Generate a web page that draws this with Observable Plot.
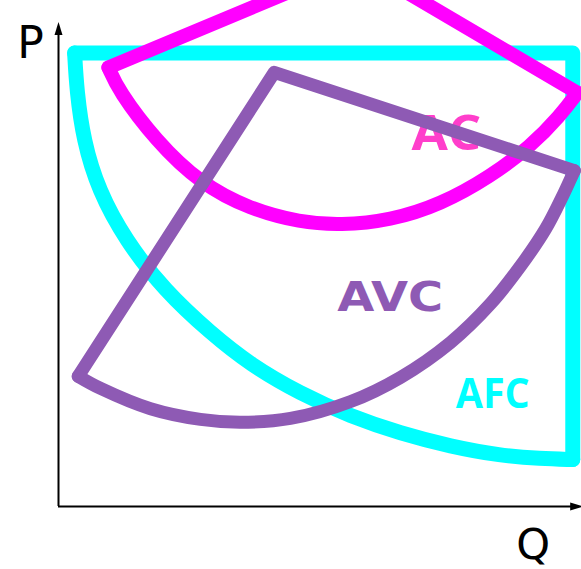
<!DOCTYPE html>
<html><head><meta charset="utf-8">
<script src="https://cdn.jsdelivr.net/npm/d3@7"></script>
<script src="https://cdn.jsdelivr.net/npm/@observablehq/plot@0.6"></script>
<style>body{margin:0;background:#fff}</style>
</head><body><div id="chart"></div>
<script>
// AFC shape: straight edges and curved side (Q, P)
const afcEdgeQ = [0.31, 9.89, 9.89];
const afcEdgeP = [9.37, 9.37, 0.97];
const afcCurveQ = [9.89, 9.27, 8.50, 7.54, 6.58, 5.62, 4.65, 3.69, 2.94, 2.04, 1.29, 0.77, 0.48, 0.35, 0.31];
const afcCurveP = [0.97, 0.99, 1.05, 1.24, 1.51, 1.86, 2.33, 2.93, 3.57, 4.46, 5.50, 6.53, 7.56, 8.60, 9.37];
// AC shape
const acEdgeQ = [0.96, 5.75, 9.98];
const acEdgeP = [9.07, 11.22, 8.55];
const acCurveQ = [9.98, 9.65, 9.08, 8.31, 7.35, 6.38, 5.42, 4.65, 3.69, 2.73, 1.87, 1.15, 0.96];
const acCurveP = [8.55, 8.08, 7.44, 6.82, 6.24, 5.91, 5.81, 5.87, 6.14, 6.67, 7.56, 8.60, 9.07];
// AVC shape
const avcEdgeQ = [0.38, 4.15, 9.92];
const avcEdgeP = [2.69, 8.97, 6.94];
const avcCurveQ = [9.92, 9.67, 9.37, 8.88, 8.31, 7.54, 6.58, 5.62, 4.46, 3.50, 2.73, 1.77, 0.81, 0.38];
const avcCurveP = [6.94, 6.36, 5.74, 4.96, 4.19, 3.39, 2.67, 2.17, 1.82, 1.74, 1.80, 2.02, 2.44, 2.69];
// curve labels
const curveNames = ["AC", "AVC", "AFC"];
const curveLabelQ = [7.46, 6.38, 8.35];
const curveLabelP = [7.68, 4.31, 2.31];
// axis labels and extents
const axisNames = ["P", "Q"];
const axisLabelQ = [-0.54, 9.13];
const axisLabelP = [9.55, -0.81];
const qMax = 10.1;
const pMax = 10;

const rows = (qs, ps) => qs.map((q, i) => ({q, p: ps[i]}));
const labels = curveNames.map((name, i) => ({name, q: curveLabelQ[i], p: curveLabelP[i]}));
const axisLabels = axisNames.map((name, i) => ({name, q: axisLabelQ[i], p: axisLabelP[i]}));

const CYAN = "#00ffff", MAGENTA = "#ff00ff", PURPLE = "#8e5ab4";
const ls = (color, w, curve) => ({x: "q", y: "p", stroke: color, strokeWidth: w,
  strokeLinejoin: "round", strokeLinecap: "round", curve});

const arrowHeads = (index, {x, y}) => {
  const g = d3.create("svg:g").attr("fill", "black");
  const x0 = x(0) + 0.5, y0 = y(0) + 0.5, xt = x(qMax), yt = y(pMax);
  g.append("path").attr("d", `M${x0},${yt}L${x0 - 4},${yt + 13}L${x0 + 4},${yt + 13}Z`);
  g.append("path").attr("d", `M${xt},${y0}L${xt - 13},${y0 - 4}L${xt - 13},${y0 + 4}Z`);
  return g.node();
};

const chart = Plot.plot({
  width: 581,
  height: 569,
  marginLeft: 58,
  marginRight: 3,
  marginTop: 22,
  marginBottom: 63,
  style: {background: "white", overflow: "hidden"},
  x: {domain: [0, 10], axis: null},
  y: {domain: [0, 10], axis: null},
  marks: [
    Plot.ruleX([0], {y1: 0, y2: pMax - 0.1, stroke: "black", strokeWidth: 2}),
    Plot.ruleY([0], {x1: 0, x2: qMax - 0.1, stroke: "black", strokeWidth: 2}),
    arrowHeads,
    Plot.line(rows(afcEdgeQ, afcEdgeP), ls(CYAN, 15, "linear")),
    Plot.line(rows(afcCurveQ, afcCurveP), ls(CYAN, 15, "basis")),
    Plot.line(rows(acEdgeQ, acEdgeP), ls(MAGENTA, 14, "linear")),
    Plot.line(rows(acCurveQ, acCurveP), ls(MAGENTA, 14, "basis")),
    Plot.text(labels.filter(d => d.name === "AC"), {x: "q", y: "p", text: "name", fill: "#ff3ecb",
      fontSize: 49, fontWeight: "bold", fontFamily: "Open Sans", textAnchor: "middle", lineAnchor: "middle"}),
    Plot.line(rows(avcEdgeQ, avcEdgeP), ls(PURPLE, 13, "linear")),
    Plot.line(rows(avcCurveQ, avcCurveP), ls(PURPLE, 13, "catmull-rom")),
    Plot.text(labels.filter(d => d.name === "AVC"), {x: "q", y: "p", text: "name", fill: PURPLE,
      fontSize: 40, fontWeight: "bold", fontFamily: "DejaVu Sans", textAnchor: "middle", lineAnchor: "middle"}),
    Plot.text(labels.filter(d => d.name === "AFC"), {x: "q", y: "p", text: "name", fill: CYAN,
      fontSize: 42, fontWeight: "bold", fontFamily: "Open Sans", textAnchor: "middle", lineAnchor: "middle"}),
    Plot.text(axisLabels.filter(d => d.name === "P"), {x: "q", y: "p", text: "name", fill: "black",
      fontSize: 44, fontFamily: "DejaVu Sans", textAnchor: "middle", lineAnchor: "middle"}),
    Plot.text(axisLabels.filter(d => d.name === "Q"), {x: "q", y: "p", text: "name", fill: "black",
      fontSize: 43, fontFamily: "DejaVu Sans", textAnchor: "middle", lineAnchor: "middle"})
  ]
});

const widths = {AC: 70, AVC: 106, AFC: 74};
d3.select(chart).selectAll("text").each(function () {
  const t = this.textContent;
  if (widths[t]) {
    this.setAttribute("textLength", widths[t]);
    this.setAttribute("lengthAdjust", "spacingAndGlyphs");
  }
});

document.getElementById("chart").append(chart);
</script>
</body></html>
